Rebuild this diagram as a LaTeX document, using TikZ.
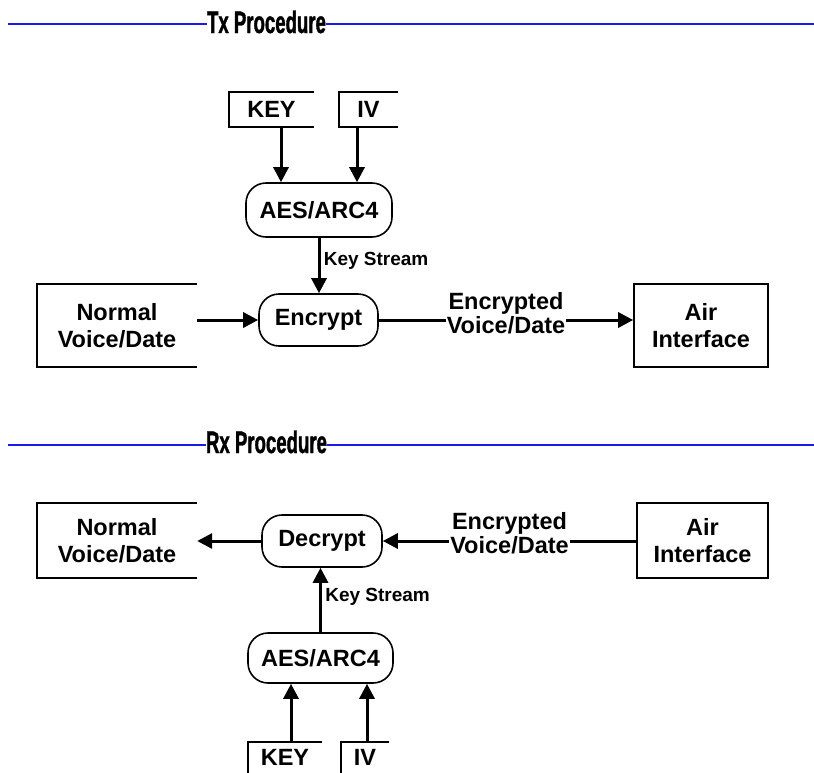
\documentclass[tikz,border=0pt]{standalone}
\usepackage{fontspec}
\setmainfont{Liberation Sans}
\newfontfamily\titlefont[FakeStretch=0.6, FakeBold=1.2]{Liberation Sans Bold}
\usetikzlibrary{arrows.meta}
\definecolor{azul}{HTML}{1A1AE6}

\begin{document}
\begin{tikzpicture}[x=1pt, y=-1pt, font=\bfseries\fontsize{23.5}{27}\selectfont,
      >={Triangle[length=15pt, width=15pt]},
      rb/.style={draw, rounded corners=20pt, line width=1.6pt, inner sep=0pt, align=center},
      ob/.style={inner sep=0pt, align=center},
      fb/.style={draw, line width=1.6pt, inner sep=0pt, align=center},
      arr/.style={->, line width=3pt},
      ks/.style={right, font=\bfseries\fontsize{19}{22}\selectfont},
      lbl/.style={fill=white, inner xsep=1pt, inner ysep=0pt, align=center,
                  font=\bfseries\fontsize{23.5}{24}\selectfont},
      ttl/.style={fill=white, inner sep=0pt, anchor=base,
                  font=\titlefont\fontsize{31}{34}\selectfont}]
    \useasboundingbox (0,0) rectangle (814,772);
    % Tx
    \draw[azul, line width=1.4pt] (8,24) -- (814,24);
    \node[ttl] (txt) at (266.5,33) {Tx Procedure};
    \node[ob, minimum width=85pt, minimum height=35pt] (tkey) at (271.5,109.5) {KEY};
    \node[ob, minimum width=59pt, minimum height=35pt] (tiv) at (368.5,109.5) {IV};
    \node[rb, minimum width=146pt, minimum height=54pt] (taes) at (319,210) {AES/ARC4};
    \node[rb, minimum width=119pt, minimum height=52pt] (tenc) at (318.5,320) {Encrypt};
    \node[ob, minimum width=160pt, minimum height=83pt] (tnorm) at (117,325.5) {Normal\\Voice/Date};
    \node[fb, minimum width=134pt, minimum height=83pt] (tair) at (701,325.5) {Air\\Interface};
    \draw[line width=1.6pt] (tkey.north east) -- (tkey.north west) -- (tkey.south west) -- (tkey.south east);
    \draw[line width=1.6pt] (tiv.north east) -- (tiv.north west) -- (tiv.south west) -- (tiv.south east);
    \draw[line width=1.6pt] (tnorm.north east) -- (tnorm.north west) -- (tnorm.south west) -- (tnorm.south east);
    \draw[arr] ([xshift=9.5pt]tkey.south) -- ([xshift=9.5pt]tkey.south |- taes.north);
    \draw[arr] ([xshift=-11.5pt]tiv.south) -- ([xshift=-11.5pt]tiv.south |- taes.north);
    \draw[arr] (taes.south) -- node[ks, pos=0.42]{Key Stream} (taes.south |- tenc.north);
    \draw[arr] (tenc.west -| tnorm.east) -- (tenc.west);
    \draw[arr] (tenc.east) -- node[lbl, yshift=7pt]{Encrypted\\Voice/Date} (tenc.east -| tair.west);
    % Rx
    \draw[azul, line width=1.4pt] (8,445) -- (814,445);
    \node[ttl] (rxt) at (266.5,453) {Rx Procedure};
    \node[ob, minimum width=160pt, minimum height=75pt] (rnorm) at (117,540.5) {Normal\\Voice/Date};
    \node[rb, minimum width=120pt, minimum height=52pt] (rdec) at (322,541) {Decrypt};
    \node[fb, minimum width=131pt, minimum height=75pt] (rair) at (702.5,540.5) {Air\\Interface};
    \node[rb, minimum width=145pt, minimum height=50pt] (raes) at (320.5,658) {AES/ARC4};
    \node[ob, minimum width=74pt, minimum height=31pt] (rkey) at (285,757.5) {KEY};
    \node[ob, minimum width=48pt, minimum height=31pt] (riv) at (365,757.5) {IV};
    \draw[line width=1.6pt] (rnorm.north east) -- (rnorm.north west) -- (rnorm.south west) -- (rnorm.south east);
    \draw[line width=1.6pt] (rkey.north east) -- (rkey.north west) -- (rkey.south west);
    \draw[line width=1.6pt] (riv.north east) -- (riv.north west) -- (riv.south west);
    \draw[arr] (rdec.west) -- (rdec.west -| rnorm.east);
    \draw[arr] (rdec.east -| rair.west) -- node[lbl, yshift=8pt]{Encrypted\\Voice/Date} (rdec.east);
    \draw[arr] (raes.north) -- node[ks, pos=0.55]{Key Stream} (raes.north |- rdec.south);
    \draw[arr] ([xshift=6pt]rkey.north) -- ([xshift=6pt]rkey.north |- raes.south);
    \draw[arr] ([xshift=2pt]riv.north) -- ([xshift=2pt]riv.north |- raes.south);
  \end{tikzpicture}
\end{document}
